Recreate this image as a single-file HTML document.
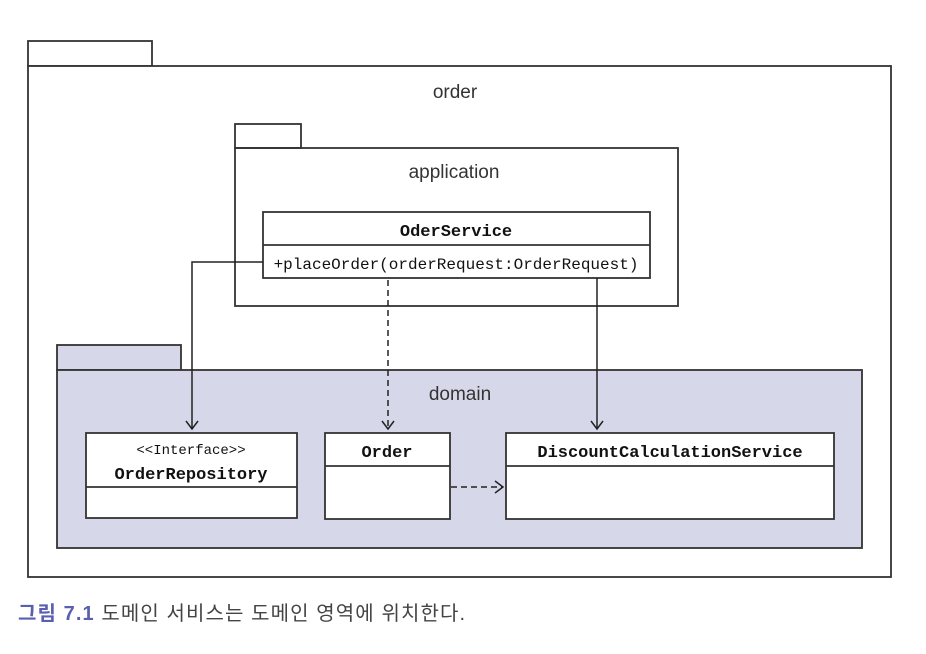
<!DOCTYPE html>
<html><head><meta charset="utf-8"><style>
body{margin:0;background:#fff;width:926px;height:654px;overflow:hidden}
</style></head><body>
<svg width="926" height="654" xmlns="http://www.w3.org/2000/svg" style="position:absolute;left:0;top:0">
<defs>
<marker id="a" markerWidth="14" markerHeight="14" refX="12" refY="7" orient="auto" markerUnits="userSpaceOnUse">
<path d="M4,1 L12,7 L4,13" fill="none" stroke="#222" stroke-width="1.5"/></marker>
</defs>
<g fill="none" stroke="#333" stroke-width="1.8">
<rect x="28" y="41" width="124" height="25" fill="#fff"/>
<rect x="28" y="66" width="863" height="511" fill="#fff"/>
<rect x="235" y="124" width="66" height="24"/>
<rect x="235" y="148" width="443" height="158"/>
<rect x="57" y="345" width="124" height="25" fill="#d7d7ea"/>
<rect x="57" y="370" width="805" height="178" fill="#d7d7ea"/>
<rect x="263" y="212" width="387" height="66" fill="#fff"/>
<line x1="263" y1="245" x2="650" y2="245"/>
<rect x="86" y="433" width="211" height="85" fill="#fff"/>
<line x1="86" y1="487" x2="297" y2="487"/>
<rect x="325" y="433" width="125" height="86" fill="#fff"/>
<line x1="325" y1="466" x2="450" y2="466"/>
<rect x="506" y="433" width="328" height="86" fill="#fff"/>
<line x1="506" y1="466" x2="834" y2="466"/>
</g>
<g fill="none" stroke="#222" stroke-width="1.5">
<polyline points="263,262 192,262 192,429" marker-end="url(#a)"/>
<line x1="388" y1="280" x2="388" y2="429" stroke-dasharray="6,4" marker-end="url(#a)"/>
<line x1="597" y1="278" x2="597" y2="429" marker-end="url(#a)"/>
<line x1="451" y1="487" x2="503" y2="487" stroke-dasharray="6,4" marker-end="url(#a)"/>
</g>
<g font-family="Liberation Sans, sans-serif" fill="#333" font-size="19" text-anchor="middle">
<text x="455" y="98">order</text>
<text x="454" y="178">application</text>
<text x="460" y="400">domain</text>
</g>
<g font-family="Liberation Mono, monospace" fill="#111" text-anchor="middle">
<text x="456" y="236" font-size="17" font-weight="bold">OderService</text>
<text x="456" y="269" font-size="16">+placeOrder(orderRequest:OrderRequest)</text>
<text x="191" y="454" font-size="14">&lt;&lt;Interface&gt;&gt;</text>
<text x="191" y="479" font-size="17" font-weight="bold">OrderRepository</text>
<text x="387" y="457" font-size="17" font-weight="bold">Order</text>
<text x="670" y="457" font-size="17" font-weight="bold">DiscountCalculationService</text>
</g>
<text x="18" y="620" font-family="Liberation Sans, 'Noto Sans CJK KR', sans-serif" font-size="20" textLength="447" lengthAdjust="spacing"><tspan fill="#5a5fb0" font-weight="bold">그림 7.1</tspan><tspan fill="#444"> 도메인 서비스는 도메인 영역에 위치한다.</tspan></text>
</svg>
</body></html>
